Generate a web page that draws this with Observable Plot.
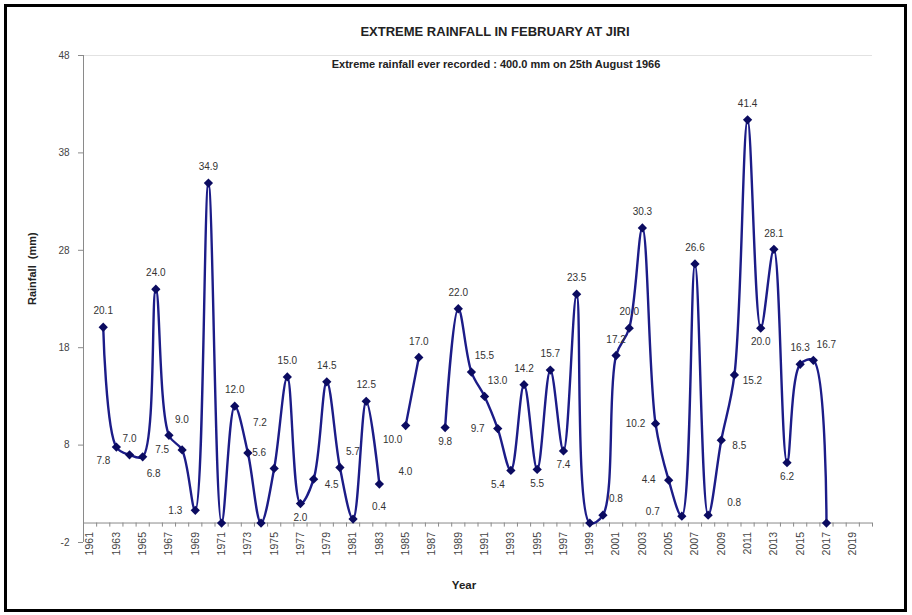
<!DOCTYPE html>
<html>
<head>
<meta charset="utf-8">
<script src="https://cdn.jsdelivr.net/npm/d3@7"></script>
<script src="https://cdn.jsdelivr.net/npm/@observablehq/plot@0.6"></script>
<style>
  html, body { margin: 0; padding: 0; background: #fff; }
  #wrap { position: relative; width: 912px; height: 615px; font-family: Arial, "Liberation Sans", sans-serif; }
  #frame { position: absolute; left: 4px; top: 4px; width: 903px; height: 608px; border: 3px solid #000; box-sizing: border-box; pointer-events: none; }
  #title { height: 44px; box-sizing: border-box; padding-top: 24px; padding-left: 78px; text-align: center; font-weight: bold; font-size: 13px; line-height: 16px; color: #222; }
  #plot svg { display: block; }
</style>
</head>
<body>
<div id="wrap">
  <div id="frame"></div>
  <div id="title"></div>
  <div id="plot"></div>
</div>
<script>
// ---- data ----
const titleText = "EXTREME RAINFALL IN FEBRUARY AT JIRI";
const subtitleText = "Extreme rainfall ever recorded : 400.0 mm on 25th August 1966";
const xLabel = "Year";
const yLabel = "Rainfall  (mm)";

const years = [1962, 1963, 1964, 1965, 1966, 1967, 1968, 1969, 1970, 1971,
  1972, 1973, 1974, 1975, 1976, 1977, 1978, 1979, 1980, 1981,
  1982, 1983, 1984, 1985, 1986, 1987, 1988, 1989, 1990, 1991,
  1992, 1993, 1994, 1995, 1996, 1997, 1998, 1999, 2000, 2001,
  2002, 2003, 2004, 2005, 2006, 2007, 2008, 2009, 2010, 2011,
  2012, 2013, 2014, 2015, 2016, 2017];

const rainfall = [20.1, 7.8, 7.0, 6.8, 24.0, 9.0, 7.5, 1.3, 34.9, 0.0,
  12.0, 7.2, 0.0, 5.6, 15.0, 2.0, 4.5, 14.5, 5.7, 0.4,
  12.5, 4.0, null, 10.0, 17.0, null, 9.8, 22.0, 15.5, 13.0,
  9.7, 5.4, 14.2, 5.5, 15.7, 7.4, 23.5, 0.0, 0.8, 17.2,
  20.0, 30.3, 10.2, 4.4, 0.7, 26.6, 0.8, 8.5, 15.2, 41.4,
  20.0, 28.1, 6.2, 16.3, 16.7, 0.0];

// where each value label sits relative to its point (null = no label)
const labelSide = ["t", "bl", "t", "br", "t", "tr", "l", "l", "t", null,
  "t", "tt", null, "tl", "t", "b", "r", "t", "tr", "rr",
  "t", "rr", null, "bl", "t", null, "b", "t", "tr", "tr",
  "l", "bl", "t", "b", "t", "b", "t", null, "tr", "t",
  "t", "t", "l", "l", "ll", "t", "rr", "r", "r", "t",
  "b", "t", "b", "t", "tr"];

const tickYears = [1961, 1963, 1965, 1967, 1969, 1971, 1973, 1975, 1977, 1979,
  1981, 1983, 1985, 1987, 1989, 1991, 1993, 1995, 1997, 1999,
  2001, 2003, 2005, 2007, 2009, 2011, 2013, 2015, 2017, 2019];
const yTicks = [-2, 8, 18, 28, 38, 48];

// ---- build ----
document.getElementById("title").textContent = titleText;

const data = years.map((yr, i) => ({year: yr, value: rainfall[i], side: labelSide[i]}));
const pts = data.filter(d => d.value != null);
const labeled = pts.filter(d => d.side);

const offsets = {
  t: [0, -16], tt: [12, -30], b: [0, 14], l: [-20, 0], ll: [-29, -4],
  r: [18, 6], rr: [26, -12], tl: [-15, -16], tr: [13, -16],
  bl: [-13, 14], br: [11, 17]
};

const xDomain = [tickYears[0] - 0.5, tickYears[tickYears.length - 1] + 1.5];
const bounds = d3.range(xDomain[0], xDomain[1] + 0.01, 1);

const labelMarks = Object.entries(offsets).map(([k, [dx, dy]]) =>
  Plot.text(labeled.filter(d => d.side === k), {
    x: "year", y: "value", text: d => d.value.toFixed(1),
    dx, dy, fontSize: 10, fill: "#333"
  })
);

const chart = Plot.plot({
  width: 912,
  height: 571,
  marginLeft: 83,
  marginRight: 40,
  marginTop: 11,
  marginBottom: 73,
  style: {fontFamily: "Arial, 'Liberation Sans', sans-serif", background: "transparent"},
  x: {domain: xDomain, axis: null},
  y: {domain: [yTicks[0], yTicks[yTicks.length - 1]]},
  marks: [
    Plot.ruleY([yTicks[yTicks.length - 1]], {x1: xDomain[0], x2: xDomain[1], stroke: "#e2e2e2"}),
    Plot.ruleX([xDomain[0]], {y1: yTicks[0], y2: yTicks[yTicks.length - 1], stroke: "#8a8a8a"}),
    Plot.axisY({ticks: yTicks, tickFormat: d => String(d), tickSize: 5, tickPadding: 9,
      fontSize: 10, color: "#444", stroke: "#8a8a8a", label: null}),
    Plot.ruleY([0], {x1: xDomain[0], x2: xDomain[1], stroke: "#8a8a8a"}),
    Plot.ruleX(bounds, {y1: 0, y2: -0.42, stroke: "#8a8a8a"}),
    Plot.text(tickYears, {x: d => d, y: 0, text: d => String(d), rotate: -90,
      textAnchor: "end", dy: 9, fontSize: 10.5, fill: "#444"}),
    Plot.line(data, {x: "year", y: "value", curve: "catmull-rom", stroke: "#1c1c88", strokeWidth: 2.4}),
    Plot.dot(pts, {x: "year", y: "value", symbol: "square", rotate: 45, r: 3.7, fill: "#0b0b60"}),
    ...labelMarks,
    Plot.text([subtitleText], {frameAnchor: "top", dx: 18, dy: 5, fontSize: 11, fontWeight: "bold", fill: "#222"}),
    Plot.text([xLabel], {frameAnchor: "bottom", dx: -14, dy: 46, fontSize: 11.5, fontWeight: "bold", fill: "#222"}),
    Plot.text([yLabel], {frameAnchor: "left", rotate: -90, dx: -51, dy: 6, fontSize: 11, fontWeight: "bold", fill: "#222"})
  ]
});
document.getElementById("plot").appendChild(chart);
</script>
</body>
</html>
